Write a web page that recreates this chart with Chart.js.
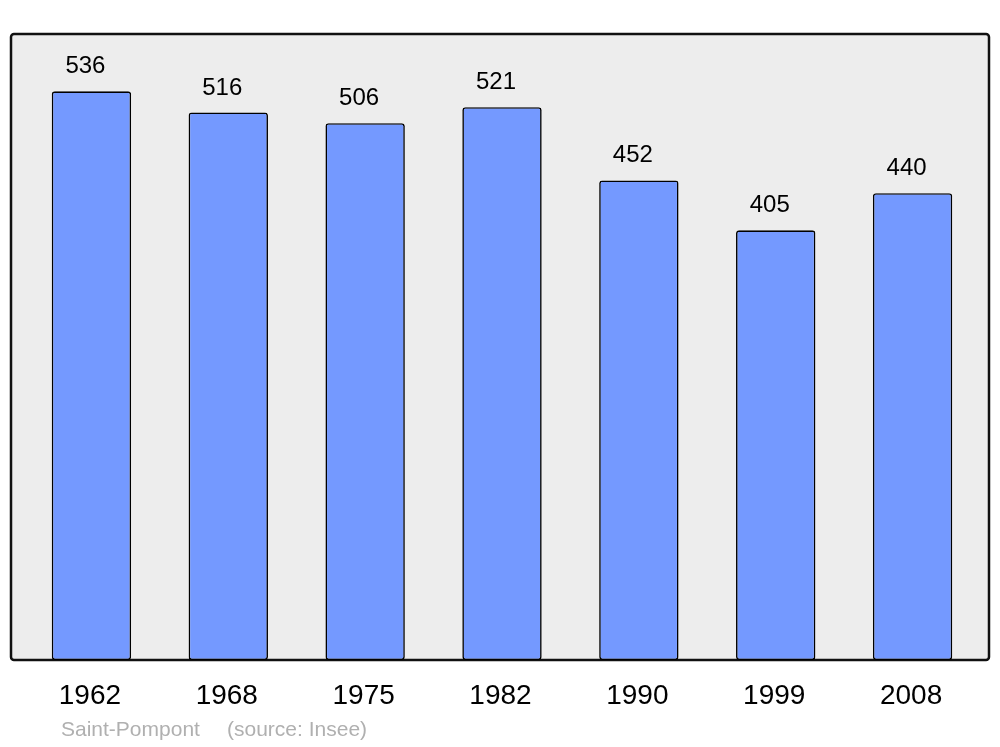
<!DOCTYPE html>
<html>
<head>
<meta charset="utf-8">
<style>
  html, body { margin: 0; padding: 0; background: #fff; }
  #wrap { width: 1000px; height: 747px; }
</style>
<script src="https://cdn.jsdelivr.net/npm/chart.js@4"></script>
</head>
<body>
<div id="wrap"><canvas id="popChart" width="1000" height="747"></canvas></div>
<script>
// Population data
const years = ['1962', '1968', '1975', '1982', '1990', '1999', '2008'];
const population = [536, 516, 506, 521, 452, 405, 440];
const townName = 'Saint-Pompont';
const sourceText = '(source: Insee)';

const fontFamily = '"Liberation Sans", Arial, sans-serif';

// Grey framed background behind the bars
const framePlugin = {
  id: 'framePlugin',
  beforeDraw(chart) {
    const ctx = chart.ctx;
    ctx.save();
    ctx.beginPath();
    ctx.roundRect(11, 34, 978, 626, 3);
    ctx.fillStyle = '#ededed';
    ctx.fill();
    ctx.lineWidth = 2.5;
    ctx.strokeStyle = '#111';
    ctx.stroke();
    ctx.restore();
  }
};

// Value labels above bars + footer
const labelPlugin = {
  id: 'labelPlugin',
  afterDraw(chart) {
    const ctx = chart.ctx;
    const meta = chart.getDatasetMeta(0);
    ctx.save();
    ctx.font = '24px ' + fontFamily;
    ctx.fillStyle = '#000';
    ctx.textAlign = 'center';
    ctx.textBaseline = 'alphabetic';
    meta.data.forEach((bar, i) => {
      ctx.fillText(String(population[i]), bar.x - 6, bar.y - 18);
    });
    ctx.font = '21px ' + fontFamily;
    ctx.fillStyle = '#b0b0b0';
    ctx.textAlign = 'left';
    ctx.textBaseline = 'middle';
    ctx.fillText(townName, 61, 730);
    ctx.fillText(sourceText, 227, 730);
    ctx.restore();
  }
};

const ctx = document.getElementById('popChart').getContext('2d');

new Chart(ctx, {
  type: 'bar',
  data: {
    labels: years,
    datasets: [{
      data: population,
      backgroundColor: '#7499ff',
      borderColor: '#000',
      borderWidth: 1.6,
      borderRadius: 3,
      borderSkipped: false,
      barPercentage: 0.58,
      categoryPercentage: 1
    }]
  },
  options: {
    responsive: false,
    animation: false,
    layout: {
      padding: { left: 23, right: 19, top: 34, bottom: 0 }
    },
    plugins: {
      legend: { display: false },
      tooltip: { enabled: false }
    },
    scales: {
      x: {
        grid: { display: false, drawTicks: false },
        border: { display: false },
        ticks: {
          color: '#000',
          font: { size: 28, family: fontFamily },
          padding: 19,
          labelOffset: -1.5
        },
        afterFit(scale) { scale.height = 87; }
      },
      y: {
        display: false,
        min: 0,
        max: 590
      }
    }
  },
  plugins: [framePlugin, labelPlugin]
});
</script>
</body>
</html>
